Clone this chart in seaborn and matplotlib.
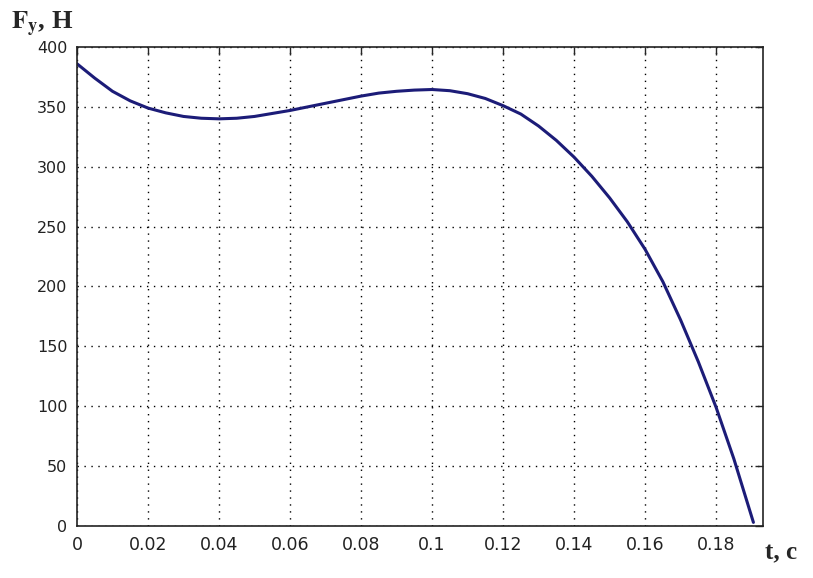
import matplotlib
matplotlib.use("Agg")
import matplotlib.pyplot as plt
import seaborn as sns
import pandas as pd

# values
t_vals = [0, 0.005, 0.01, 0.015, 0.02, 0.025, 0.03, 0.035, 0.04, 0.045,
          0.05, 0.055, 0.06, 0.065, 0.07, 0.075, 0.08, 0.085, 0.09, 0.095,
          0.10, 0.105, 0.11, 0.115, 0.12, 0.125, 0.13, 0.135, 0.14, 0.145,
          0.15, 0.155, 0.16, 0.165, 0.17, 0.175, 0.18, 0.185, 0.1905]
f_vals = [386, 374, 363, 355, 349, 345, 342, 340.5, 340, 340.5,
          342, 344.5, 347, 350, 353, 356, 359, 361.5, 363, 364,
          364.5, 363.5, 361, 357, 351, 344, 334, 322, 308, 292,
          274, 254, 231, 204, 172, 137, 99, 56, 3]
x_ticks = [0, 0.02, 0.04, 0.06, 0.08, 0.1, 0.12, 0.14, 0.16, 0.18]
x_tick_labels = ["0", "0.02", "0.04", "0.06", "0.08", "0.1", "0.12", "0.14", "0.16", "0.18"]
y_ticks = [0, 50, 100, 150, 200, 250, 300, 350, 400]

df = pd.DataFrame({"t": t_vals, "F": f_vals})

sns.set_style("white")
plt.rcParams["font.family"] = ["DejaVu Sans"]
plt.rcParams["mathtext.fontset"] = "stix"

fig = plt.figure(figsize=(8.13, 5.78), dpi=100)
ax = fig.add_axes([0.0947, 0.09, 0.9385 - 0.0947, 0.9187 - 0.09])

sns.lineplot(data=df, x="t", y="F", ax=ax, color="#1c1c78", linewidth=2.2,
             sort=False, estimator=None)

ax.set_xlim(0, 0.1932)
ax.set_ylim(0, 400)
ax.set_xticks(x_ticks)
ax.set_xticklabels(x_tick_labels)
ax.set_yticks(y_ticks)
ax.grid(True, color="black", linestyle=(0, (1, 4)), linewidth=1)
ax.tick_params(direction="in", length=6, width=1, top=True, right=True,
               labelcolor="#222222")
ax.tick_params(axis="x", labelsize=12.5, pad=7)
ax.tick_params(axis="y", labelsize=11.5, pad=7)
for s in ax.spines.values():
    s.set_color("#222222")
    s.set_linewidth(1.2)
ax.set_xlabel("")
ax.set_ylabel("")

fig.text(0.014, 0.932, r"$\mathbf{F_y}$, H", fontsize=19, fontweight="bold",
         family="Liberation Serif", ha="left", va="bottom")
fig.text(0.941, 0.024, "t, c", fontsize=18, fontweight="bold",
         family="Liberation Serif", ha="left", va="bottom")

fig.savefig("out.png", dpi=100)
